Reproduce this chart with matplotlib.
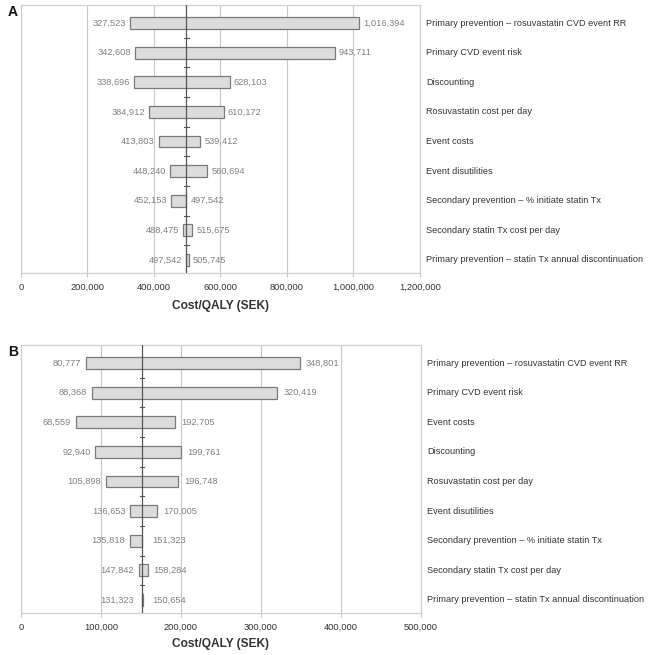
import matplotlib
matplotlib.use("Agg")
import matplotlib.pyplot as plt
from matplotlib.ticker import FuncFormatter

plt.rcParams['font.family'] = ['Liberation Sans', 'DejaVu Sans']

# panel A
a_labels = ["Primary prevention \u2013 rosuvastatin CVD event RR",
            "Primary CVD event risk",
            "Discounting",
            "Rosuvastatin cost per day",
            "Event costs",
            "Event disutilities",
            "Secondary prevention \u2013 % initiate statin Tx",
            "Secondary statin Tx cost per day",
            "Primary prevention \u2013 statin Tx annual discontinuation"]
a_low = [327523, 342608, 338696, 384912, 413803, 448240, 452153, 488475, 497542]
a_high = [1016394, 943711, 628103, 610172, 539412, 560694, 497542, 515675, 505745]
a_base = 497542
a_ticks = [0, 200000, 400000, 600000, 800000, 1000000, 1200000]

# panel B
b_labels = ["Primary prevention \u2013 rosuvastatin CVD event RR",
            "Primary CVD event risk",
            "Event costs",
            "Discounting",
            "Rosuvastatin cost per day",
            "Event disutilities",
            "Secondary prevention \u2013 % initiate statin Tx",
            "Secondary statin Tx cost per day",
            "Primary prevention \u2013 statin Tx annual discontinuation"]
b_low = [80777, 88368, 68559, 92940, 105898, 136653, 135818, 147842, 131323]
b_high = [348801, 320419, 192705, 199761, 196748, 170005, 151323, 158284, 150654]
# bar extents as drawn (last bar is drawn tiny near base despite its label)
b_bar_low = [80777, 88368, 68559, 92940, 105898, 136653, 135818, 147842, 150654]
b_bar_high = [348801, 320419, 192705, 199761, 196748, 170005, 151323, 158284, 151923]
b_base = 151323
b_ticks = [0, 100000, 200000, 300000, 400000, 500000]

VAL_COL = '#808080'
TXT_COL = '#333333'


def tornado(ax, labels, low, high, bar_low, bar_high, base, ticks,
            gap_l, gap_r, min_l, min_r, pad):
    n = len(labels)
    ys = list(range(n))
    lefts = [min(a, b) for a, b in zip(bar_low, bar_high)]
    widths = [abs(b - a) for a, b in zip(bar_low, bar_high)]
    ax.barh(ys, widths, left=lefts, height=0.4, color='#dcdcdc',
            edgecolor='#7a7a7a', linewidth=0.9, zorder=3)

    ax.set_xlim(ticks[0], ticks[-1])
    ax.set_ylim(n - 1 + 0.44, -0.61)
    ax.set_xticks(ticks)
    ax.xaxis.set_major_formatter(FuncFormatter(lambda v, p: f"{int(v):,}"))
    ax.set_yticks([])
    ax.grid(axis='x', color='#c8c8c8', linewidth=0.8, zorder=0)
    ax.tick_params(axis='x', length=3, width=0.8, color='#c8c8c8',
                   labelsize=6.7, labelcolor=TXT_COL, pad=4)
    for s in ax.spines.values():
        s.set_color('#d0d0d0')
        s.set_linewidth(0.9)

    # base line with small ticks between rows
    ax.axvline(base, color='#555555', linewidth=0.9, zorder=4)
    tick_w = (ticks[-1] - ticks[0]) * 0.006
    for k in range(n - 1):
        ax.plot([base - tick_w, base + tick_w], [k + 0.5, k + 0.5],
                color='#555555', linewidth=0.8, zorder=4)

    for i in range(n):
        xl = min(min(bar_low[i], bar_high[i]) - gap_l, base - min_l)
        xr = max(max(bar_low[i], bar_high[i]) + gap_r, base + min_r)
        ax.text(xl, i, f"{low[i]:,}", ha='right', va='center',
                fontsize=6.7, color=VAL_COL, zorder=5)
        ax.text(xr, i, f"{high[i]:,}", ha='left', va='center',
                fontsize=6.7, color=VAL_COL, zorder=5)
        ax.annotate(labels[i], xy=(1, i), xycoords=('axes fraction', 'data'),
                    xytext=(4.3, 0), textcoords='offset points',
                    ha='left', va='center', fontsize=6.6, color=TXT_COL,
                    annotation_clip=False)

    ax.set_xlabel("Cost/QALY (SEK)", fontsize=8.6, fontweight='bold',
                  color=TXT_COL, labelpad=pad)


fig = plt.figure(figsize=(6.5, 6.55), dpi=100)
ax_a = fig.add_axes([21 / 650, 1 - 273 / 655, 399 / 650, 268 / 655])
ax_b = fig.add_axes([21 / 650, 1 - 613 / 655, 400 / 650, 268 / 655])

tornado(ax_a, a_labels, a_low, a_high, a_low, a_high, a_base, a_ticks,
        gap_l=12000, gap_r=12000, min_l=0, min_r=0, pad=6)
tornado(ax_b, b_labels, b_low, b_high, b_bar_low, b_bar_high, b_base, b_ticks,
        gap_l=6000, gap_r=7500, min_l=10400, min_r=12900, pad=4.5)

fig.text(8 / 650, 1 - 12 / 655, "A", ha='left', va='center',
         fontsize=10, fontweight='bold', color='#111111')
fig.text(8 / 650, 1 - 352 / 655, "B", ha='left', va='center',
         fontsize=10, fontweight='bold', color='#111111')

fig.savefig("out.png", dpi=100)
